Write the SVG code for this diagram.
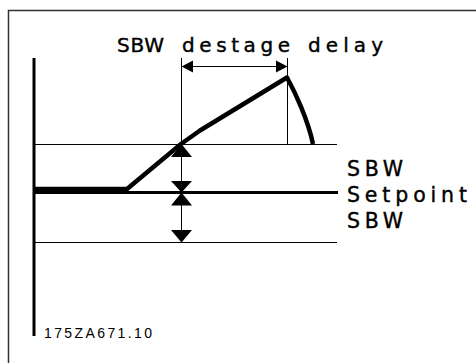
<svg xmlns="http://www.w3.org/2000/svg" width="476" height="363" viewBox="0 0 476 363">
<style>
.thin{stroke:#000;stroke-width:1;fill:none}
.lbl{font-family:"DejaVu Sans","Liberation Sans",sans-serif;font-size:20.5px;fill:#000;stroke:#000;stroke-width:0.4}
.ttl{font-family:"DejaVu Sans","Liberation Sans",sans-serif;font-size:20px;fill:#000;stroke:#000;stroke-width:0.4}
.code{font-family:"Liberation Sans",Arial,sans-serif;font-size:14px;fill:#000}
.ah{fill:#000}
</style>
<rect width="476" height="363" fill="#fff"/>
<path d="M8.5,363 V10.5 H476" fill="none" stroke="#333" stroke-width="1.5"/>
<g id="axis">
<rect x="32.5" y="58" width="3" height="278" fill="#000"/>
</g>
<g id="levels">
<line class="thin" x1="35" y1="144.5" x2="337" y2="144.5"/>
<line x1="35" y1="192.5" x2="338" y2="192.5" stroke="#000" stroke-width="3"/>
<line class="thin" x1="35" y1="242.5" x2="337" y2="242.5"/>
</g>
<g id="curve">
<path d="M35,189 H127 L181,144 L200,130.5 L287,77.5 C295,92 308,120 313,144" fill="none" stroke="#000" stroke-width="4.5" stroke-linejoin="round"/>
</g>
<g id="connectors">
<line class="thin" x1="181.5" y1="58" x2="181.5" y2="144"/>
<line class="thin" x1="287.5" y1="58" x2="287.5" y2="144"/>
<line class="thin" x1="181" y1="66.5" x2="287" y2="66.5"/>
<polygon class="ah" points="181.5,66.5 193,60.5 193,72.5"/>
<polygon class="ah" points="287.5,66.5 276,60.5 276,72.5"/>
<line class="thin" x1="181.5" y1="144" x2="181.5" y2="242"/>
<polygon class="ah" points="181.5,144 171,157 192,157"/>
<polygon class="ah" points="181.5,192.5 171,181 192,181"/>
<polygon class="ah" points="181.5,192.5 171,205.5 192,205.5"/>
<polygon class="ah" points="181.5,242.5 171,230 192,230"/>
</g>
<g id="title">
<text class="ttl" x="117" y="52" textLength="47" lengthAdjust="spacing">SBW</text>
<text class="ttl" x="182" y="52" textLength="108" lengthAdjust="spacing">destage</text>
<text class="ttl" x="308" y="52" textLength="75" lengthAdjust="spacing">delay</text>
</g>
<g id="labels">
<text class="lbl" x="347" y="176" textLength="56" lengthAdjust="spacing">SBW</text>
<text class="lbl" x="347" y="202" textLength="120" lengthAdjust="spacing">Setpoint</text>
<text class="lbl" x="347" y="228" textLength="56" lengthAdjust="spacing">SBW</text>
</g>
<g id="code">
<text class="code" x="44" y="338" textLength="108" lengthAdjust="spacing">175ZA671.10</text>
</g>
</svg>
